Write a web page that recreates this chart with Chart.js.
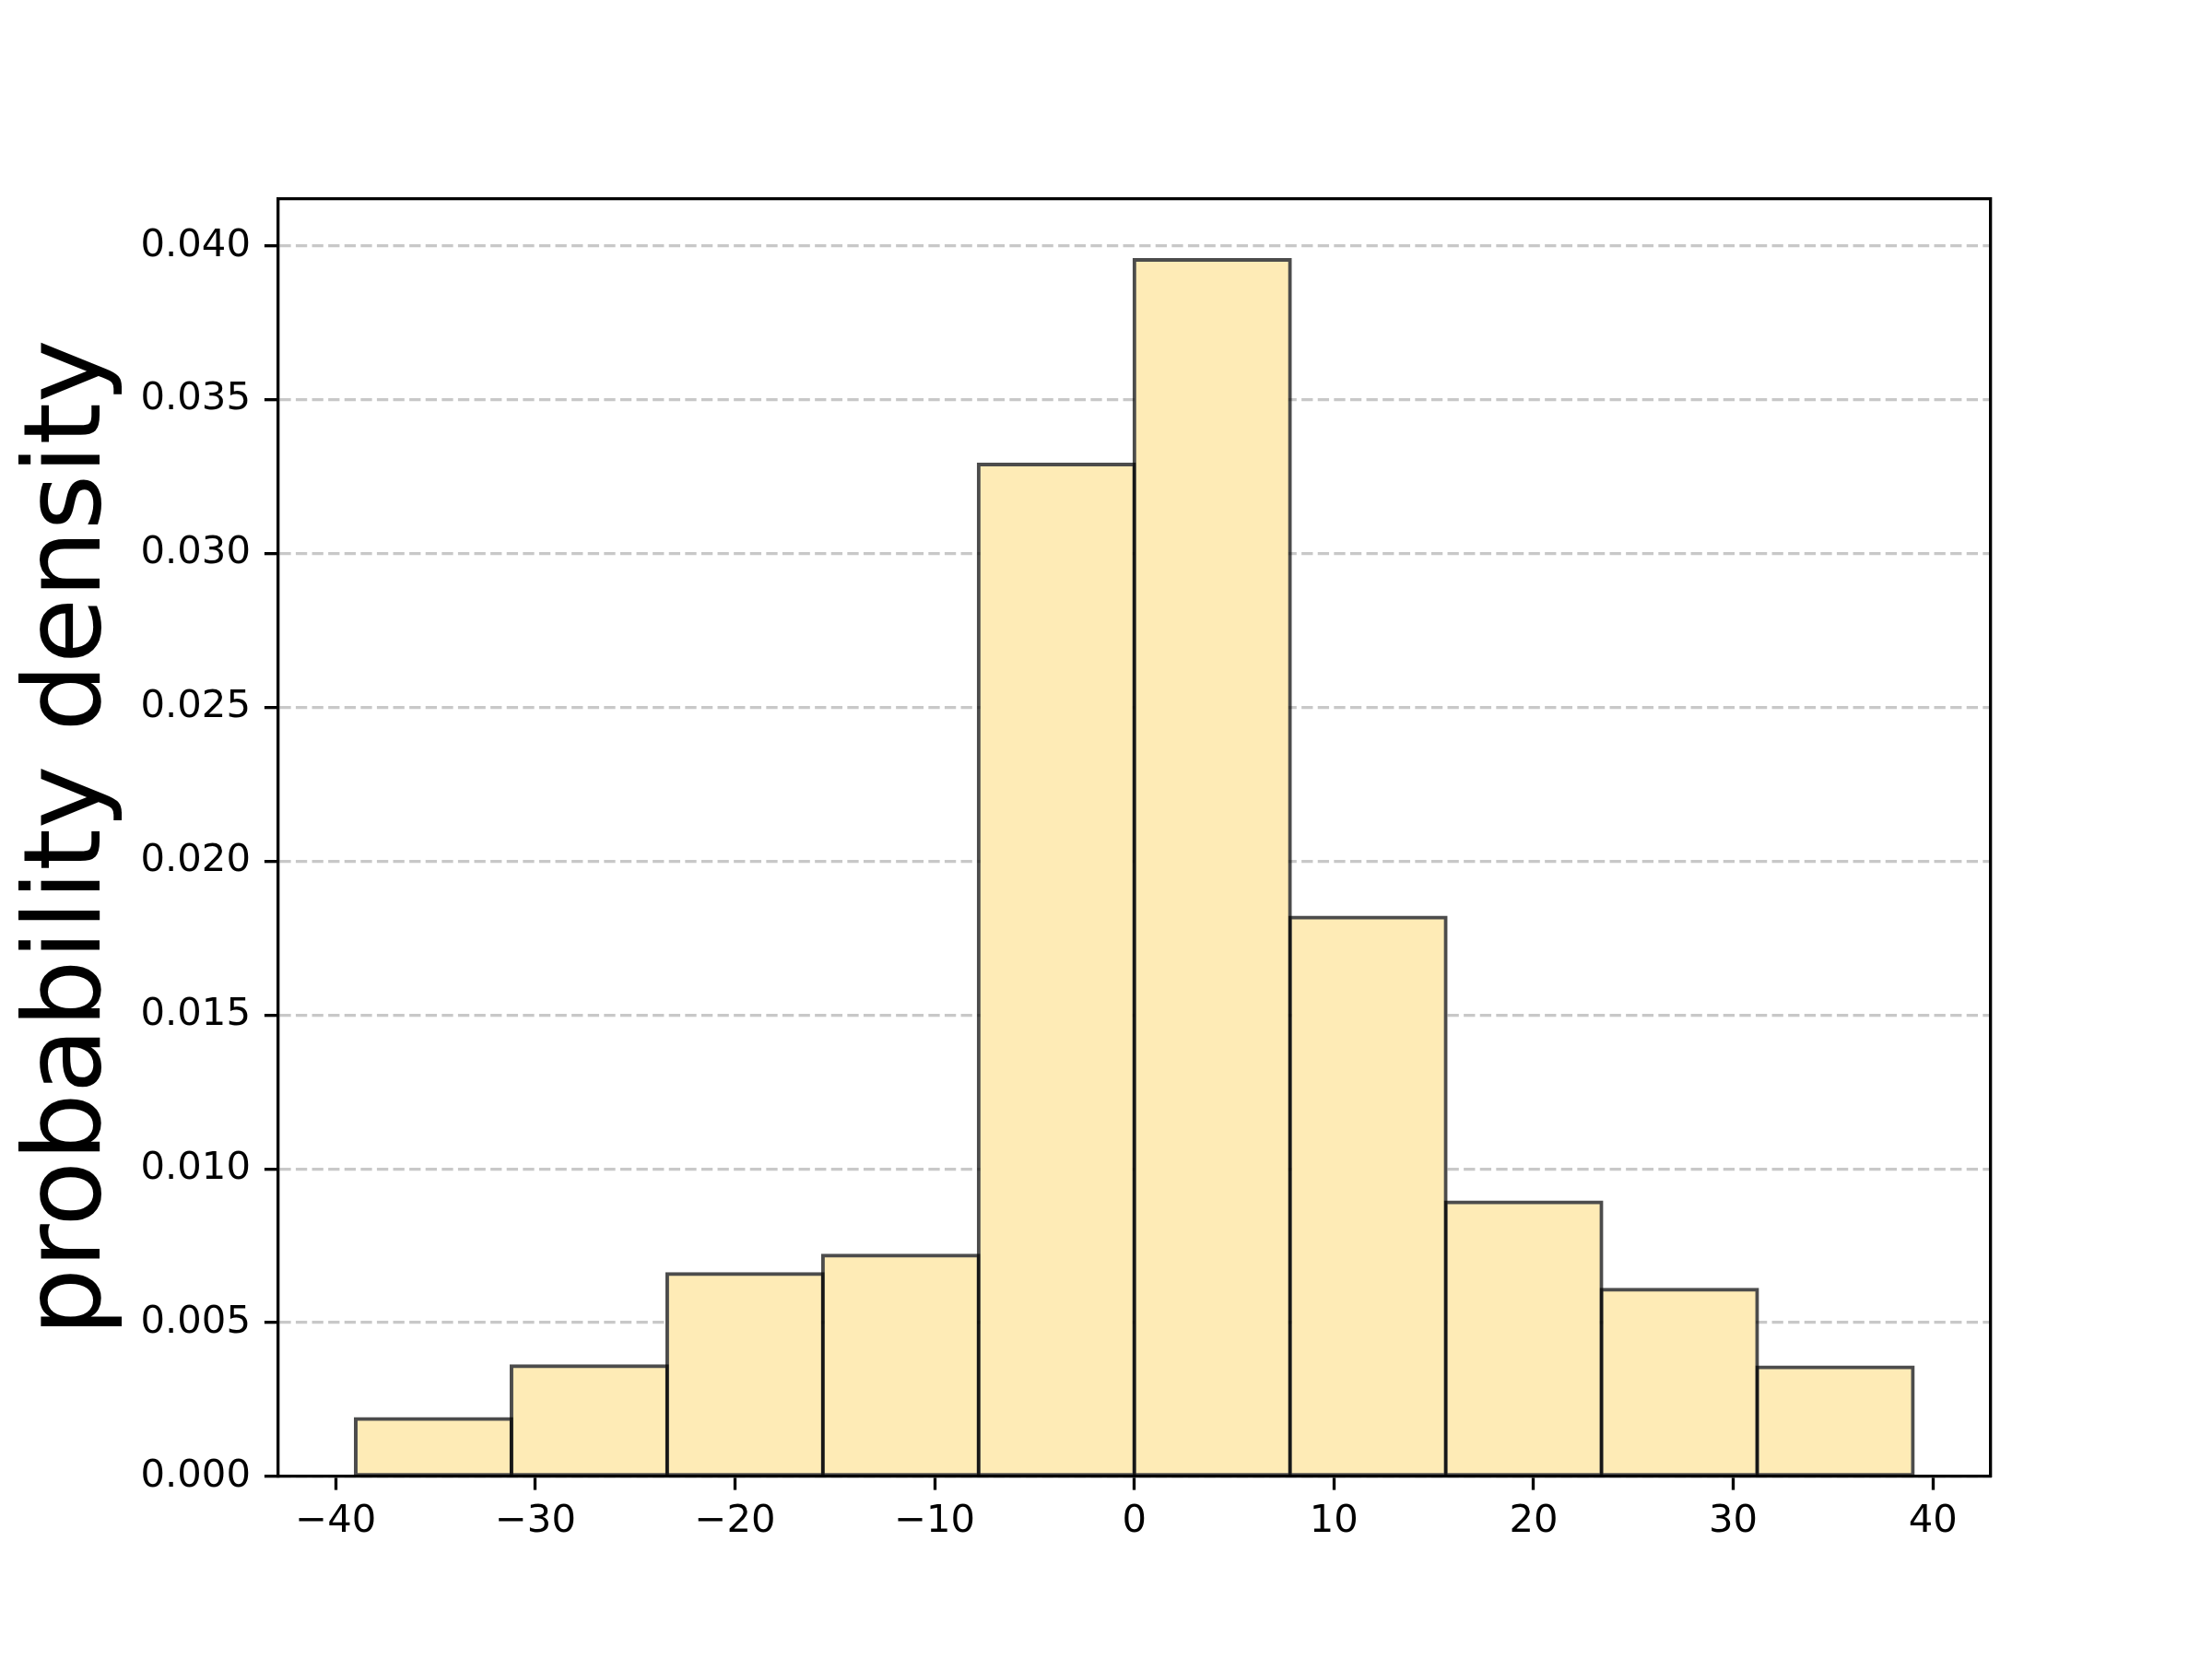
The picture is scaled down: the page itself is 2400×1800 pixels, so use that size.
<!DOCTYPE html>
<html><head><meta charset="utf-8">
<script src="https://cdn.jsdelivr.net/npm/chart.js@4.4.0/dist/chart.umd.min.js"></script>
<style>html,body{margin:0;padding:0;background:#fff}#wrap{width:2400px;height:1800px}</style>
</head><body><div id="wrap"><canvas id="c" width="2400" height="1800"></canvas></div>
<script>
const binEdges = [-39, -31.2, -23.4, -15.6, -7.8, 0, 7.8, 15.6, 23.4, 31.2, 39];
const densities = [0.00187, 0.00359, 0.00658, 0.00718, 0.03289, 0.03954, 0.01817, 0.00891, 0.00607, 0.00355];
const xTicks = [-40, -30, -20, -10, 0, 10, 20, 30, 40];
const yTicks = [0, 0.005, 0.010, 0.015, 0.020, 0.025, 0.030, 0.035, 0.040];
const yLabel = 'probability density';
const xRange = [-42.9, 42.9];
const yRange = [0, 0.04152];

const points = densities.map((d, i) => ({x: (binEdges[i] + binEdges[i + 1]) / 2, y: d}));
const FONT = 'DejaVu Sans';
const LW = 3.33;
const TICKLEN = 14.6;

new Chart(document.getElementById('c'), {
  type: 'bar',
  data: {
    datasets: [{
      data: points,
      backgroundColor: '#feebb6',
      borderColor: 'rgba(0,0,0,0.7)',
      borderWidth: 4,
      borderSkipped: false,
      barPercentage: 1,
      categoryPercentage: 1,
      inflateAmount: 2
    }]
  },
  options: {
    responsive: false,
    animation: false,
    devicePixelRatio: 1,
    layout: {padding: {left: 0, top: 216, right: 240, bottom: 0}},
    plugins: {legend: {display: false}, tooltip: {enabled: false}},
    scales: {
      x: {
        type: 'linear', position: 'bottom', z: 2, offset: false,
        min: xRange[0], max: xRange[1],
        afterBuildTicks: s => { s.ticks = xTicks.map(v => ({value: v})); },
        afterFit: s => { s.height = 198; },
        grid: {display: true, offset: false, drawOnChartArea: false, drawTicks: true, tickLength: TICKLEN, tickColor: '#000', tickWidth: LW},
        border: {display: true, color: '#000', width: LW},
        ticks: {
          font: {family: FONT, size: 41.7}, color: '#000', padding: 10, maxRotation: 0, autoSkip: false,
          callback: v => (v < 0 ? '\u2212' + Math.abs(v) : String(v))
        }
      },
      y: {
        type: 'linear', position: 'left', z: 1,
        min: yRange[0], max: yRange[1],
        afterBuildTicks: s => { s.ticks = yTicks.map(v => ({value: v})); },
        afterFit: s => { s.width = 301.5; },
        grid: {display: true, drawOnChartArea: true, drawTicks: true, color: 'rgba(176,176,176,0.7)', lineWidth: LW,
               tickLength: TICKLEN, tickColor: '#000', tickWidth: LW},
        border: {display: true, color: '#000', width: LW, dash: [12.3, 5.3]},
        ticks: {
          font: {family: FONT, size: 41.7}, color: '#000', padding: 15, autoSkip: false,
          callback: v => v.toFixed(3)
        },
        title: {display: true, text: yLabel, color: '#000', font: {family: FONT, size: 116}, padding: {top: 8, bottom: 0}}
      },
      x2: {
        type: 'linear', position: 'top', z: 2, min: xRange[0], max: xRange[1], offset: false,
        afterFit: s => { s.height = 0; },
        grid: {display: false, drawTicks: false},
        border: {display: true, color: '#000', width: LW},
        ticks: {display: false}
      },
      y2: {
        type: 'linear', position: 'right', z: 2, min: yRange[0], max: yRange[1],
        afterFit: s => { s.width = 0; },
        grid: {display: false, drawTicks: false},
        border: {display: true, color: '#000', width: LW},
        ticks: {display: false}
      }
    }
  }
});
</script>
</body></html>
